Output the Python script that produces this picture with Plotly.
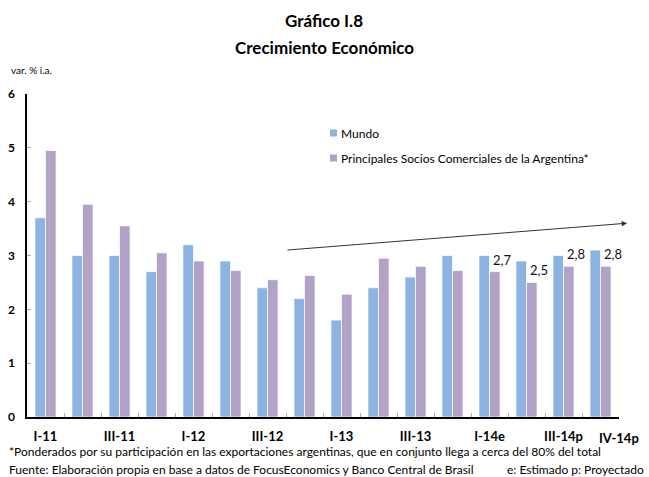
import plotly.graph_objects as go

# Quarterly GDP growth, % y/y
quarters = ["I-11", "II-11", "III-11", "IV-11", "I-12", "II-12", "III-12", "IV-12",
            "I-13", "II-13", "III-13", "IV-13", "I-14e", "II-14e", "III-14p", "IV-14p"]
tick_labels = ["I-11", "", "III-11", "", "I-12", "", "III-12", "",
               "I-13", "", "III-13", "", "I-14e", "", "III-14p", ""]
last_label = "IV-14p"
mundo = [3.7, 3.0, 3.0, 2.7, 3.2, 2.9, 2.4, 2.2, 1.8, 2.4, 2.6, 3.0, 3.0, 2.9, 3.0, 3.1]
socios = [4.95, 3.95, 3.55, 3.05, 2.9, 2.72, 2.55, 2.63, 2.28, 2.95, 2.8, 2.72, 2.7, 2.5, 2.8, 2.8]
labelled = ["I-14e", "II-14e", "III-14p", "IV-14p"]
series_names = ["Mundo", "Principales Socios Comerciales de la Argentina*"]

FONT = "Lato, 'Open Sans', sans-serif"
BLUE = "#8DB3E2"
PURPLE = "#B3A2C7"
colors = [BLUE, PURPLE]

W, H = 649, 477
L, R, T, B = 27, 30, 94, 60
PW, PH = W - L - R, H - T - B

fig = go.Figure()
for name, vals, col in zip(series_names, [mundo, socios], colors):
    fig.add_trace(go.Bar(x=quarters, y=vals, name=name, showlegend=False,
                         marker=dict(color=col, line=dict(color="rgba(255,255,255,0.7)", width=1))))


def px_x(x):
    return (x - L) / PW


def px_y(y):
    return 1 - (y - T) / PH


def px_annot(x, y, text, size, anchor, bold=False):
    fig.add_annotation(x=px_x(x), y=px_y(y), xref="paper", yref="paper",
                       text=f"<b>{text}</b>" if bold else text, showarrow=False,
                       xanchor=anchor, yanchor="middle",
                       font=dict(family=FONT, size=size, color="#000"))


# value labels for the estimated / projected quarters
for q in labelled:
    v = socios[quarters.index(q)]
    fig.add_annotation(x=q, y=v, text=f"{v:.1f}".replace(".", ","), showarrow=False,
                       xanchor="center", yanchor="bottom", xshift=12, yshift=2,
                       font=dict(family=FONT, size=13, color="#111"))

# last category label, nudged right so it clears its neighbour
fig.add_annotation(x=quarters[-1], y=px_y(438), xref="x", yref="paper", text=f"<b>{last_label}</b>",
                   showarrow=False, xanchor="center", yanchor="middle", xshift=18,
                   font=dict(family=FONT, size=13, color="#000"))

# trend arrow
fig.add_annotation(x=15.72, y=3.6, ax=6.5, ay=3.1, xref="x", yref="y", axref="x", ayref="y",
                   text="", showarrow=True, arrowhead=2, arrowsize=1.1, arrowwidth=1,
                   arrowcolor="#333")

# legend: colour swatch + label per series
for i, (name, col) in enumerate(zip(series_names, colors)):
    yc = 133 + 25 * i
    fig.add_shape(type="rect", xref="paper", yref="paper",
                  x0=px_x(330), x1=px_x(337), y0=px_y(yc + 3.5), y1=px_y(yc - 3.5),
                  fillcolor=col, line=dict(width=0))
    px_annot(339, yc, name, 12, "left")

# titles and notes
px_annot(324, 20, "Gráfico I.8", 17, "center", bold=True)
px_annot(324, 48, "Crecimiento Económico", 17, "center", bold=True)
px_annot(9, 70, "var. % i.a.", 10, "left")
px_annot(7, 451, "*Ponderados por su participación en las exportaciones argentinas, que en conjunto llega a cerca del 80% del total", 12, "left")
px_annot(7, 470, "Fuente: Elaboración propia en base a datos de FocusEconomics y Banco Central de Brasil", 12, "left")
px_annot(646, 470, "e: Estimado p: Proyectado", 12, "right")

fig.update_layout(
    width=W, height=H,
    margin=dict(l=L, r=R, t=T, b=B, autoexpand=False),
    paper_bgcolor="white", plot_bgcolor="white",
    font=dict(family=FONT, color="#000"),
    barmode="group", bargap=0.43, bargroupgap=0,
    xaxis=dict(type="category", tickvals=quarters, ticktext=tick_labels, tickangle=0,
               tickson="boundaries", ticks="inside", ticklen=4, tickcolor="#aaa",
               showline=True, linecolor="#000", linewidth=1.5, showgrid=False,
               tickfont=dict(family=FONT, size=13, color="#000", weight="bold"),
               ticklabelstandoff=7,
               range=[-0.5, 15.5], automargin=False),
    yaxis=dict(range=[0, 6], dtick=1, ticks="inside", ticklen=4, tickcolor="#aaa",
               showline=True, linecolor="#000", linewidth=1.5, showgrid=False, zeroline=False,
               tickfont=dict(family=FONT, size=12, color="#000", weight="bold"),
               ticklabelstandoff=8, automargin=False),
)

fig.write_html("out.html")
